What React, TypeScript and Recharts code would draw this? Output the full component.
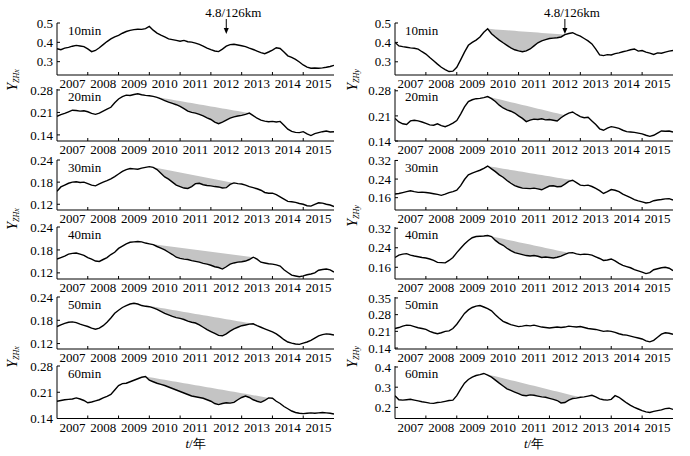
import { Area, ComposedChart, Line, XAxis, YAxis } from 'recharts';

const FONT = 'Liberation Serif, Times New Roman, Times, serif';

const YEARS = [
  2007, 2007.125, 2007.25, 2007.375, 2007.5, 2007.625, 2007.75, 2007.875,
  2008, 2008.125, 2008.25, 2008.375, 2008.5, 2008.625, 2008.75, 2008.875,
  2009, 2009.125, 2009.25, 2009.375, 2009.5, 2009.625, 2009.75, 2009.875,
  2010, 2010.125, 2010.25, 2010.375, 2010.5, 2010.625, 2010.75, 2010.875,
  2011, 2011.125, 2011.25, 2011.375, 2011.5, 2011.625, 2011.75, 2011.875,
  2012, 2012.125, 2012.25, 2012.375, 2012.5, 2012.625, 2012.75, 2012.875,
  2013, 2013.125, 2013.25, 2013.375, 2013.5, 2013.625, 2013.75, 2013.875,
  2014, 2014.125, 2014.25, 2014.375, 2014.5, 2014.625, 2014.75, 2014.875,
  2015, 2015.125, 2015.25, 2015.375, 2015.5, 2015.625, 2015.75, 2015.875,
  2016,
];

// year labels sit mid-year, tick marks at year boundaries
const YEAR_LABELS = [2007.5, 2008.5, 2009.5, 2010.5, 2011.5, 2012.5, 2013.5, 2014.5, 2015.5];

// Y_ZHx (left column)
const ZHX_10 = [
  0.367, 0.362, 0.370, 0.374, 0.380, 0.384, 0.381, 0.378,
  0.366, 0.352, 0.358, 0.372, 0.388, 0.404, 0.418, 0.428,
  0.436, 0.447, 0.456, 0.462, 0.466, 0.468, 0.467, 0.471,
  0.482, 0.463, 0.448, 0.437, 0.428, 0.418, 0.414, 0.410,
  0.406, 0.410, 0.403, 0.401, 0.396, 0.389, 0.380, 0.370,
  0.362, 0.355, 0.352, 0.365, 0.380, 0.388, 0.390, 0.386,
  0.382, 0.378, 0.370, 0.363, 0.355, 0.347, 0.341, 0.350,
  0.360, 0.372, 0.368, 0.350, 0.330, 0.322, 0.312, 0.298,
  0.283, 0.272, 0.266, 0.267, 0.266, 0.268, 0.271, 0.275,
  0.281,
];
const ZHX_20 = [
  0.198, 0.203, 0.207, 0.212, 0.217, 0.216, 0.214, 0.215,
  0.212, 0.207, 0.204, 0.208, 0.214, 0.220, 0.226, 0.240,
  0.252, 0.259, 0.264, 0.263, 0.266, 0.268, 0.265, 0.263,
  0.262, 0.260, 0.257, 0.252, 0.247, 0.242, 0.238, 0.234,
  0.229, 0.222, 0.214, 0.210, 0.208, 0.204, 0.199, 0.193,
  0.188, 0.180, 0.175, 0.180, 0.186, 0.192, 0.196, 0.199,
  0.201, 0.204, 0.208, 0.200, 0.192, 0.186, 0.183, 0.181,
  0.182, 0.180, 0.182, 0.170, 0.158, 0.151, 0.148, 0.147,
  0.150, 0.143, 0.138, 0.144, 0.147, 0.150, 0.152, 0.149,
  0.150,
];
const ZHX_30 = [
  0.155, 0.167, 0.172, 0.177, 0.180, 0.181, 0.179, 0.180,
  0.176, 0.172, 0.170, 0.175, 0.180, 0.184, 0.189, 0.195,
  0.202, 0.209, 0.214, 0.217, 0.216, 0.215, 0.218, 0.220,
  0.222, 0.220, 0.214, 0.204, 0.194, 0.188, 0.180, 0.172,
  0.168, 0.164, 0.163, 0.168, 0.176, 0.177, 0.173, 0.171,
  0.170, 0.168, 0.167, 0.164, 0.165, 0.174, 0.178, 0.176,
  0.175, 0.172, 0.168, 0.165, 0.162, 0.158, 0.152, 0.150,
  0.150, 0.146, 0.140, 0.134, 0.128, 0.127, 0.125, 0.122,
  0.120, 0.116, 0.115, 0.120, 0.124, 0.123, 0.120, 0.118,
  0.114,
];
const ZHX_40 = [
  0.156, 0.160, 0.164, 0.169, 0.171, 0.172, 0.169, 0.166,
  0.160, 0.156, 0.151, 0.150, 0.155, 0.160, 0.168, 0.174,
  0.184, 0.190, 0.196, 0.200, 0.201, 0.202, 0.201, 0.198,
  0.196, 0.194, 0.189, 0.185, 0.180, 0.174, 0.168, 0.161,
  0.158, 0.156, 0.155, 0.152, 0.150, 0.148, 0.145, 0.143,
  0.140, 0.136, 0.134, 0.130, 0.136, 0.143, 0.146, 0.148,
  0.149, 0.151, 0.155, 0.161, 0.156, 0.148, 0.146, 0.144,
  0.143, 0.141, 0.138, 0.128, 0.121, 0.114, 0.112, 0.110,
  0.112, 0.115, 0.117, 0.120, 0.127, 0.129, 0.130, 0.128,
  0.122,
];
const ZHX_50 = [
  0.164, 0.168, 0.172, 0.175, 0.176, 0.174, 0.170, 0.167,
  0.164, 0.160, 0.157, 0.160, 0.166, 0.175, 0.186, 0.198,
  0.206, 0.213, 0.218, 0.222, 0.224, 0.222, 0.218, 0.216,
  0.215, 0.212, 0.208, 0.203, 0.198, 0.194, 0.190, 0.187,
  0.185, 0.182, 0.178, 0.175, 0.173, 0.168, 0.162, 0.156,
  0.151, 0.146, 0.141, 0.140, 0.145, 0.152, 0.158, 0.162,
  0.166, 0.168, 0.170, 0.171, 0.166, 0.162, 0.158, 0.154,
  0.150, 0.145, 0.138, 0.130, 0.124, 0.121, 0.119, 0.118,
  0.121, 0.124, 0.128, 0.134, 0.140, 0.143, 0.145, 0.144,
  0.142,
];
const ZHX_60 = [
  0.186, 0.188, 0.190, 0.191, 0.192, 0.195, 0.192, 0.188,
  0.182, 0.184, 0.187, 0.190, 0.195, 0.199, 0.204, 0.216,
  0.228, 0.233, 0.234, 0.238, 0.242, 0.246, 0.250, 0.252,
  0.242, 0.238, 0.234, 0.231, 0.228, 0.224, 0.220, 0.216,
  0.212, 0.208, 0.204, 0.200, 0.198, 0.196, 0.194, 0.190,
  0.186, 0.180, 0.177, 0.180, 0.182, 0.181, 0.183, 0.190,
  0.196, 0.200, 0.196, 0.190, 0.186, 0.183, 0.188, 0.195,
  0.194, 0.186, 0.180, 0.172, 0.166, 0.160, 0.156, 0.154,
  0.153, 0.154, 0.155, 0.154, 0.155, 0.156, 0.155, 0.154,
  0.152,
];

// Y_ZHy (right column)
const ZHY_10 = [
  0.400, 0.382, 0.378, 0.375, 0.372, 0.370, 0.365, 0.352,
  0.340, 0.322, 0.305, 0.288, 0.272, 0.260, 0.250, 0.252,
  0.272, 0.310, 0.350, 0.385, 0.400, 0.412, 0.428, 0.452,
  0.470, 0.445, 0.428, 0.412, 0.398, 0.385, 0.372, 0.362,
  0.356, 0.352, 0.356, 0.366, 0.382, 0.398, 0.408, 0.414,
  0.420, 0.422, 0.424, 0.428, 0.440, 0.446, 0.450, 0.440,
  0.432, 0.420, 0.408, 0.392, 0.365, 0.336, 0.332, 0.337,
  0.335, 0.342, 0.346, 0.352, 0.356, 0.362, 0.366, 0.355,
  0.358, 0.350, 0.345, 0.338, 0.346, 0.344, 0.350, 0.355,
  0.358,
];
const ZHY_20 = [
  0.203, 0.193, 0.188, 0.186, 0.196, 0.198, 0.196, 0.193,
  0.189, 0.185, 0.184, 0.188, 0.183, 0.180, 0.184, 0.190,
  0.197, 0.215, 0.235, 0.250, 0.255, 0.258, 0.259, 0.261,
  0.264, 0.258, 0.250, 0.240, 0.232, 0.227, 0.223, 0.218,
  0.210, 0.203, 0.194, 0.198, 0.201, 0.200, 0.202, 0.199,
  0.200, 0.198, 0.196, 0.205, 0.212, 0.218, 0.221, 0.214,
  0.208, 0.205, 0.206, 0.196, 0.186, 0.174, 0.170, 0.176,
  0.180, 0.178, 0.175, 0.170, 0.166, 0.165, 0.164, 0.162,
  0.160, 0.156, 0.153, 0.156, 0.162, 0.168, 0.167, 0.168,
  0.165,
];
const ZHY_30 = [
  0.176, 0.178, 0.182, 0.186, 0.190, 0.186, 0.183, 0.184,
  0.182, 0.180, 0.177, 0.174, 0.170, 0.175, 0.182, 0.186,
  0.192, 0.212, 0.238, 0.258, 0.266, 0.272, 0.278, 0.286,
  0.296, 0.284, 0.272, 0.258, 0.248, 0.234, 0.222, 0.212,
  0.206, 0.201, 0.200, 0.199, 0.201, 0.198, 0.194, 0.202,
  0.210, 0.211, 0.207, 0.208, 0.218, 0.230, 0.235, 0.225,
  0.214, 0.212, 0.214, 0.208, 0.200, 0.190, 0.178, 0.186,
  0.195, 0.192, 0.186, 0.175, 0.168, 0.160, 0.152, 0.146,
  0.142, 0.137, 0.140, 0.147, 0.150, 0.152, 0.155, 0.156,
  0.150,
];
const ZHY_40 = [
  0.200, 0.210, 0.214, 0.216, 0.210, 0.206, 0.203, 0.200,
  0.198, 0.194, 0.188, 0.180, 0.179, 0.178, 0.188, 0.200,
  0.220, 0.238, 0.255, 0.270, 0.281, 0.286, 0.287, 0.288,
  0.290, 0.286, 0.270, 0.258, 0.250, 0.238, 0.228, 0.220,
  0.216, 0.212, 0.208, 0.206, 0.208, 0.205, 0.200, 0.202,
  0.200, 0.198, 0.201, 0.206, 0.213, 0.219, 0.220, 0.215,
  0.212, 0.214, 0.213, 0.210, 0.203, 0.196, 0.188, 0.190,
  0.194, 0.186, 0.176, 0.168, 0.163, 0.158, 0.150, 0.145,
  0.140, 0.134, 0.138, 0.150, 0.154, 0.158, 0.160, 0.156,
  0.146,
];
const ZHY_50 = [
  0.222, 0.226, 0.232, 0.236, 0.235, 0.230, 0.225, 0.222,
  0.218, 0.210, 0.204, 0.200, 0.204, 0.210, 0.212, 0.222,
  0.240, 0.262, 0.285, 0.300, 0.310, 0.316, 0.318, 0.312,
  0.305, 0.296, 0.280, 0.265, 0.252, 0.245, 0.238, 0.234,
  0.230, 0.232, 0.235, 0.233, 0.236, 0.232, 0.228, 0.226,
  0.224, 0.226, 0.228, 0.226, 0.228, 0.232, 0.230, 0.228,
  0.230, 0.226, 0.222, 0.220, 0.218, 0.214, 0.210, 0.212,
  0.210, 0.206, 0.200, 0.196, 0.194, 0.190, 0.186, 0.182,
  0.178, 0.170, 0.166, 0.172, 0.185, 0.198, 0.204, 0.202,
  0.198,
];
const ZHY_60 = [
  0.258, 0.238, 0.236, 0.238, 0.240, 0.236, 0.232, 0.228,
  0.225, 0.221, 0.220, 0.224, 0.226, 0.230, 0.234, 0.236,
  0.258, 0.290, 0.320, 0.338, 0.350, 0.358, 0.362, 0.368,
  0.360, 0.350, 0.335, 0.320, 0.306, 0.292, 0.284, 0.276,
  0.268, 0.260, 0.258, 0.262, 0.260, 0.256, 0.252, 0.250,
  0.245, 0.240, 0.234, 0.222, 0.224, 0.236, 0.244, 0.246,
  0.250, 0.252, 0.256, 0.260, 0.252, 0.242, 0.238, 0.236,
  0.240, 0.258, 0.250, 0.236, 0.222, 0.210, 0.200, 0.192,
  0.184, 0.178, 0.175, 0.180, 0.184, 0.188, 0.194, 0.196,
  0.190,
];

const LABELS = ['10min', '20min', '30min', '40min', '50min', '60min'];

const ZHX_SERIES = [ZHX_10, ZHX_20, ZHX_30, ZHX_40, ZHX_50, ZHX_60];
const ZHX_DOMAINS: [number, number][] = [
  [0.231, 0.5], [0.121, 0.283], [0.1045, 0.24], [0.104, 0.24], [0.106, 0.24], [0.14, 0.28],
];
const ZHX_TICKS = [
  [0.3, 0.4, 0.5], [0.14, 0.21, 0.28], [0.12, 0.18, 0.24],
  [0.12, 0.18, 0.24], [0.12, 0.18, 0.24], [0.14, 0.21, 0.28],
];
// gray anomaly triangles: [start year, end year]
const ZHX_SHADES: ([number, number] | null)[] = [
  null, [2010.125, 2013.25], [2010, 2012.75], [2010, 2013.375], [2009.625, 2013.375], [2009.875, 2013.875],
];

const ZHY_SERIES = [ZHY_10, ZHY_20, ZHY_30, ZHY_40, ZHY_50, ZHY_60];
const ZHY_DOMAINS: [number, number][] = [
  [0.232, 0.5], [0.14, 0.285], [0.107, 0.322], [0.112, 0.325], [0.136, 0.354], [0.145, 0.405],
];
const ZHY_TICKS = [
  [0.3, 0.4, 0.5], [0.14, 0.21, 0.28], [0.16, 0.24, 0.32],
  [0.16, 0.24, 0.32], [0.14, 0.21, 0.28, 0.35], [0.2, 0.3, 0.4],
];
const ZHY_SHADES: ([number, number] | null)[] = [
  [2010, 2012.5], [2010, 2012.5], [2010, 2012.75], [2010, 2012.625], null, [2009.875, 2013],
];

const QUAKE_YEAR = 2012.5;

// layout
const ROW_TOP = [23, 89, 160, 227, 297, 366];
const ROW_BOTTOM = [75, 141, 210, 279, 349, 418.5];
const PAD_TOP = 8;
const AXIS_H = 20;
const COLS = [
  { left: 0, axisW: 57, plotW: 277 },
  { left: 345, axisW: 50, plotW: 278 },
];

function YearTick(props: any) {
  const { x, y, payload, hw } = props;
  const v = payload.value as number;
  return (
    <g>
      <text x={x} y={y + 10} textAnchor="middle" fill="#000" fontSize={13} fontFamily={FONT}>
        {Math.floor(v)}
      </text>
      {v < 2015.5 && <line x1={x + hw} x2={x + hw} y1={y - 3} y2={y - 6} stroke="#000" strokeWidth={1} />}
    </g>
  );
}

interface PanelProps {
  values: number[];
  domain: [number, number];
  ticks: number[];
  shade: [number, number] | null;
  row: number;
  col: number;
}

function Panel({ values, domain, ticks, shade, row, col }: PanelProps) {
  const { left, axisW, plotW } = COLS[col];
  const plotH = ROW_BOTTOM[row] - ROW_TOP[row];
  const hw = plotW / 18;

  const data = YEARS.map((t, i) => {
    const d: { t: number; v: number; band?: [number, number] } = { t, v: values[i] };
    if (shade && t >= shade[0] && t <= shade[1]) {
      const i1 = YEARS.indexOf(shade[0]);
      const i2 = YEARS.indexOf(shade[1]);
      const chord = values[i1] + ((values[i2] - values[i1]) * (t - shade[0])) / (shade[1] - shade[0]);
      d.band = [values[i], chord];
    }
    return d;
  });

  return (
    <div style={{ position: 'absolute', left, top: ROW_TOP[row] - PAD_TOP }}>
      <ComposedChart
        width={axisW + plotW + 6}
        height={plotH + PAD_TOP + AXIS_H}
        data={data}
        margin={{ top: PAD_TOP, right: 6, bottom: 0, left: 0 }}
      >
        <XAxis
          dataKey="t"
          type="number"
          domain={[2007, 2016]}
          ticks={YEAR_LABELS}
          interval={0}
          tickLine={false}
          tickSize={0}
          tickMargin={3}
          height={AXIS_H}
          axisLine={{ stroke: '#000', strokeWidth: 1 }}
          tick={(p: any) => <YearTick {...p} hw={hw} />}
          allowDataOverflow
        />
        <YAxis
          type="number"
          domain={domain}
          ticks={ticks}
          interval={0}
          width={axisW}
          allowDataOverflow
          tickSize={-3}
          tickMargin={7}
          axisLine={{ stroke: '#000', strokeWidth: 1 }}
          tickLine={{ stroke: '#000', strokeWidth: 1 }}
          tick={{ fill: '#000', fontSize: 13, fontFamily: FONT }}
          tickFormatter={(v: number) => String(v)}
        />
        <Area
          dataKey="band"
          type="linear"
          fill="#c4c4c4"
          fillOpacity={1}
          stroke="none"
          isAnimationActive={false}
        />
        <Line
          dataKey="v"
          type="linear"
          stroke="#000"
          strokeWidth={1.4}
          dot={false}
          isAnimationActive={false}
        />
      </ComposedChart>
    </div>
  );
}

function yearX(col: number, year: number) {
  const { left, axisW, plotW } = COLS[col];
  return left + axisW + ((year - 2007) / 9) * plotW;
}

function AxisTitle({ x, y, sub }: { x: number; y: number; sub: string }) {
  return (
    <text transform={`translate(${x},${y}) rotate(-90)`} textAnchor="middle" fontFamily={FONT} fill="#000">
      <tspan fontSize={14} fontStyle="italic">Y</tspan>
      <tspan fontSize={8} fontStyle="italic" dy={2}>{sub}</tspan>
    </text>
  );
}

export default function App() {
  return (
    <div style={{ position: 'absolute', left: 0, top: 0, width: 690, height: 456, background: '#fff', fontFamily: FONT }}>
      {ZHX_SERIES.map((s, r) => (
        <Panel key={`x${r}`} values={s} domain={ZHX_DOMAINS[r]} ticks={ZHX_TICKS[r]} shade={ZHX_SHADES[r]} row={r} col={0} />
      ))}
      {ZHY_SERIES.map((s, r) => (
        <Panel key={`y${r}`} values={s} domain={ZHY_DOMAINS[r]} ticks={ZHY_TICKS[r]} shade={ZHY_SHADES[r]} row={r} col={1} />
      ))}
      <svg width={690} height={456} style={{ position: 'absolute', left: 0, top: 0, pointerEvents: 'none' }}>
        {LABELS.map((l, r) => (
          <g key={l}>
            <text x={COLS[0].axisW + 11} y={ROW_TOP[r] + 12} fontSize={13} fontFamily={FONT} fill="#000">{l}</text>
            <text x={COLS[1].left + COLS[1].axisW + 10} y={ROW_TOP[r] + 12} fontSize={13} fontFamily={FONT} fill="#000">{l}</text>
          </g>
        ))}
        {[0, 1].map((c) => {
          const ax = yearX(c, QUAKE_YEAR);
          return (
            <g key={`q${c}`}>
              <text x={ax + 7} y={17} textAnchor="middle" fontSize={13} fontFamily={FONT} fill="#000">4.8/126km</text>
              <line x1={ax} x2={ax} y1={19} y2={30} stroke="#000" strokeWidth={1} />
              <polygon points={`${ax - 2.5},28 ${ax + 2.5},28 ${ax},34`} fill="#000" />
            </g>
          );
        })}
        <AxisTitle x={17} y={80} sub="ZHx" />
        <AxisTitle x={17} y={219} sub="ZHx" />
        <AxisTitle x={17} y={357} sub="ZHx" />
        <AxisTitle x={357} y={80} sub="ZHy" />
        <AxisTitle x={357} y={216} sub="ZHy" />
        <AxisTitle x={357} y={357} sub="ZHy" />
        {[0, 1].map((c) => (
          <text key={`t${c}`} x={yearX(c, 2011.5)} y={448} textAnchor="middle" fontSize={13} fontFamily={FONT} fill="#000">
            <tspan fontStyle="italic">t</tspan>/年
          </text>
        ))}
      </svg>
    </div>
  );
}
